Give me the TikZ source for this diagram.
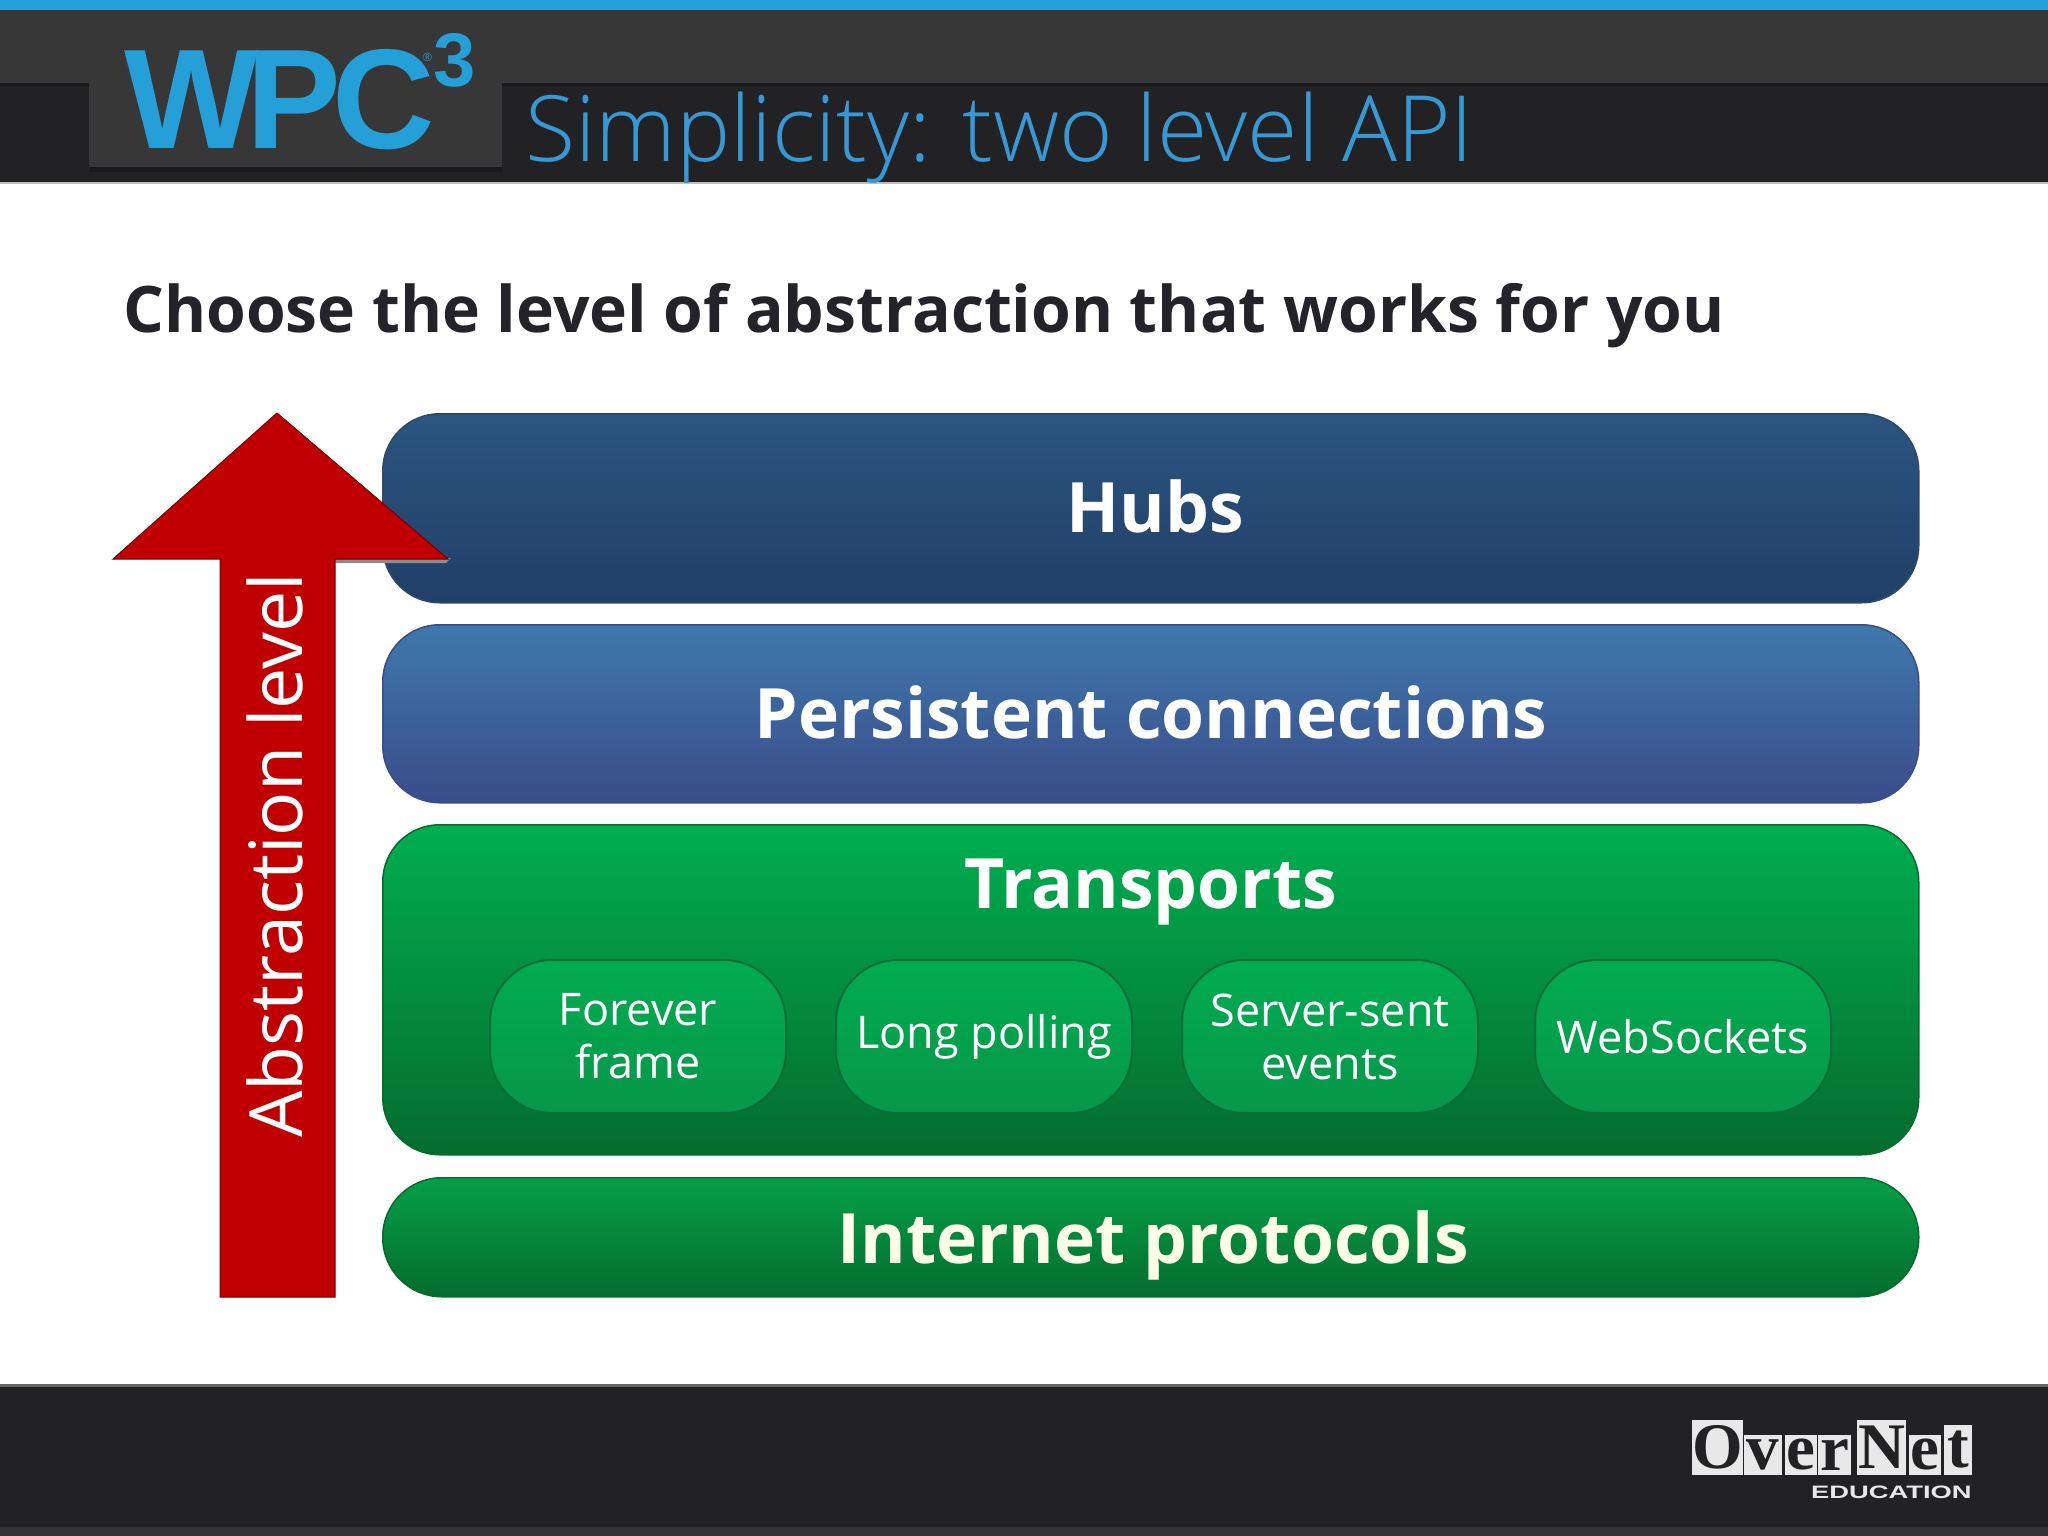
\documentclass[tikz,border=0pt]{standalone}
\usepackage{fontspec}
\setmainfont{Open Sans}
\newfontfamily\lightf{Open Sans Light}
\newfontfamily\helvf{Liberation Sans}
\newfontfamily\serf{Liberation Serif}
\definecolor{bluebar}{HTML}{259FD8}
\definecolor{bandhi}{HTML}{383737}
\definecolor{bandlo}{HTML}{222123}
\definecolor{bandsh}{HTML}{1A191B}
\definecolor{titleblue}{HTML}{3698D4}
\definecolor{ink}{HTML}{24232A}
\definecolor{arrred}{HTML}{C00000}
\definecolor{letterbg}{HTML}{E8E8E8}
\definecolor{subtop}{HTML}{01AC50}
\definecolor{subbot}{HTML}{07974A}
\definecolor{subline}{HTML}{0A6E36}
\definecolor{hubtop}{HTML}{2B5580}
\definecolor{hubbot}{HTML}{213F68}
\definecolor{hubline}{HTML}{2E4A68}
\definecolor{perstop}{HTML}{3F78AC}
\definecolor{persbot}{HTML}{3A4C8A}
\definecolor{trtop}{HTML}{00AE50}
\definecolor{trbot}{HTML}{056C2E}
\definecolor{intop}{HTML}{05A047}
\definecolor{footline}{HTML}{343434}
\tikzset{
  x=1pt,y=-1pt,
  layerbox/.style={rectangle,draw=#1,line width=1.5pt,rounded corners=57pt,inner sep=0pt,minimum width=1536pt,anchor=north west},
  subbox/.style={rectangle,draw=subline,line width=2pt,rounded corners=62pt,inner sep=0pt,minimum width=296pt,minimum height=153pt,text=white,anchor=north west,align=center,top color=subtop,bottom color=subbot,font=\fontsize{45}{53}\selectfont},
  layertext/.style={text=white,inner sep=0pt,font=\bfseries\fontsize{69.5}{69.5}\selectfont},
  lettertile/.style={rectangle,fill=letterbg,inner sep=0pt,anchor=south west,text=bandlo,font=\serf\bfseries\fontsize{65}{65}\selectfont},
}
\begin{document}
\begin{tikzpicture}
\useasboundingbox (0,0) rectangle (2048,1536);
\fill[white] (0,0) rectangle (2048,1536);
% header
\fill[bandlo] (0,0) rectangle (2048,182);
\fill[bandhi] (0,10) rectangle (2048,83);
\fill[bandsh] (0,83) rectangle (2048,87);
\fill[bluebar] (0,0) rectangle (2048,10);
\fill[black!25] (0,182) rectangle (2048,183.5);
\fill[bandsh] (89,167) rectangle (502,172);
\fill[bandhi] (89,10) rectangle (502,167);
\node[anchor=base west,inner sep=0pt,text=bluebar,font=\helvf\bfseries\fontsize{142}{142}\selectfont] (wpc) at (124,149) {W\kern-12pt P\kern-9pt C};
\node[anchor=base west,inner sep=0pt,text=bluebar,font=\helvf\bfseries\fontsize{76}{76}\selectfont] (three) at (433,87) {3};
\node[anchor=base west,inner sep=0pt,text=bluebar,font=\helvf\fontsize{12}{12}\selectfont] (reg) at (423,62) {®};
\node[anchor=base west,inner sep=0pt,text=titleblue,font=\lightf\fontsize{91.5}{91.5}\selectfont] (title) at (525,161) {Simplicity: two level API};
% heading
\node[anchor=base west,inner sep=0pt,text=ink,font=\bfseries\fontsize{64.2}{64.2}\selectfont] (head) at (123,332) {Choose the level of abstraction that works for you};
% layers
\node[layerbox=hubline,top color=hubtop,bottom color=hubbot,minimum height=189pt] (hubs) at (382,413) {};
\node[layertext] (hubst) at (1155,506) {Hubs};
\node[layerbox=persbot,top color=perstop,bottom color=persbot,minimum height=178pt] (pers) at (382,624) {};
\node[layertext] (perst) at (1151,712) {Persistent connections};
\node[layerbox=trbot,top color=trtop,bottom color=trbot,minimum height=330pt] (trans) at (382,824) {};
\node[layertext] (transt) at (1151,892) {Transports};
\node[subbox] (ff) at (489,959) {Forever\\frame};
\node[subbox] (lp) at (835,959) {Long polling};
\node[subbox] (ss) at (1181,959) {Server-sent\\events};
\node[subbox] (ws) at (1534,959) {WebSockets};
\node[layerbox=trbot,top color=intop,bottom color=trbot,rounded corners=59pt,minimum height=119pt] (inet) at (382,1177) {};
\node[layertext,text=white!90!yellow] (inett) at (1153,1245) {Internet protocols};
% arrow
\fill[black!45] (335,558) -- (451,558) -- (446,563) -- (335,563) -- cycle;
\draw[fill=arrred,draw=arrred!60!black,line width=1pt,line join=miter] (277,413) -- (448,559) -- (335,559) -- (335,1297) -- (220,1297) -- (220,559) -- (113,559) -- cycle;
\node[rotate=90,text=white,inner sep=0pt,font=\fontsize{73.5}{73.5}\selectfont,anchor=base west] (abs) at (302,1138) {Abstraction level};
% footer
\fill[bandlo] (0,1384) rectangle (2048,1536);
\fill[black!60] (0,1384) rectangle (2048,1387);
\fill[footline] (0,1527) rectangle (2048,1536);
% OverNet logo
\node[lettertile,minimum width=50pt,minimum height=55pt] (o1) at (1692,1475) {O};
\node[lettertile,minimum width=38pt,minimum height=40pt] (v1) at (1744,1475) {v};
\node[lettertile,minimum width=32pt,minimum height=40pt] (e1) at (1785,1475) {e};
\node[lettertile,minimum width=33pt,minimum height=40pt] (r1) at (1818,1475) {r};
\node[lettertile,minimum width=49pt,minimum height=55pt] (n1) at (1857,1475) {N};
\node[lettertile,minimum width=32pt,minimum height=40pt] (e2) at (1909,1475) {e};
\node[lettertile,minimum width=28pt,minimum height=50pt] (t1) at (1944,1475) {t};
\node[anchor=base east,inner sep=0pt,text=letterbg,xscale=1.52,font=\helvf\bfseries\fontsize{18}{18}\selectfont] (edu) at (1972,1498) {EDUCATION};
\end{tikzpicture}
\end{document}
